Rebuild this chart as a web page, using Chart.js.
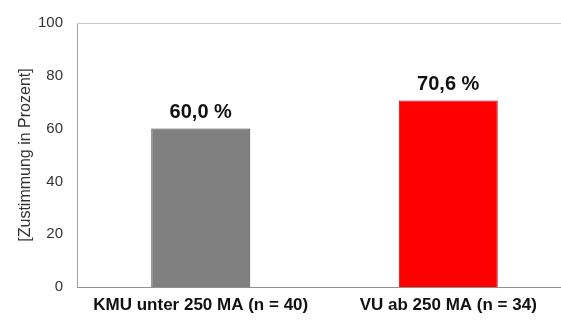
<!DOCTYPE html>
<html>
<head>
<meta charset="utf-8">
<script src="https://cdn.jsdelivr.net/npm/chart.js@4/dist/chart.umd.min.js"></script>
<style>
  html, body { margin: 0; padding: 0; background: #fff; overflow: hidden; width: 561px; height: 320px; }
  #wrap { width: 572px; height: 320px; }
</style>
</head>
<body>
<div id="wrap"><canvas id="c" width="572" height="320"></canvas></div>
<script>
const categories = ['KMU unter 250 MA (n = 40)', 'VU ab 250 MA (n = 34)'];
const zustimmung = [60.0, 70.6];
const yTicks = [0, 20, 40, 60, 80, 100];

const FONT = '"Liberation Sans", Arial, sans-serif';

// value labels above each bar, German decimal comma
const valueLabels = {
  id: 'valueLabels',
  afterDatasetsDraw(chart) {
    const ctx = chart.ctx;
    const meta = chart.getDatasetMeta(0);
    ctx.save();
    ctx.font = 'bold 20px ' + FONT;
    ctx.fillStyle = '#111';
    ctx.textAlign = 'center';
    ctx.textBaseline = 'alphabetic';
    meta.data.forEach((bar, i) => {
      const txt = zustimmung[i].toFixed(1).replace('.', ',') + ' %';
      ctx.fillText(txt, bar.x, bar.y - 11);
    });
    ctx.restore();
  }
};

// thin frame line along the top of the plot area
const topLine = {
  id: 'topLine',
  afterDraw(chart) {
    const { ctx, chartArea } = chart;
    ctx.save();
    ctx.strokeStyle = '#c8c8c8';
    ctx.lineWidth = 1;
    ctx.beginPath();
    ctx.moveTo(chartArea.left, chartArea.top + 0.5);
    ctx.lineTo(chartArea.right, chartArea.top + 0.5);
    ctx.stroke();
    ctx.restore();
  }
};

new Chart(document.getElementById('c'), {
  type: 'bar',
  data: {
    labels: categories,
    datasets: [{
      data: zustimmung,
      backgroundColor: ['#808080', '#ff0000'],
      borderColor: ['#4a4a4a', '#b00000'],
      borderWidth: 1,
      barPercentage: 0.4,
      categoryPercentage: 1.0
    }]
  },
  options: {
    responsive: false,
    animation: false,
    layout: { padding: { top: 20, left: 0, right: 0, bottom: 0 } },
    plugins: { legend: { display: false }, tooltip: { enabled: false } },
    scales: {
      x: {
        grid: { display: false, drawTicks: false },
        border: { display: true, color: '#909090', width: 1 },
        ticks: {
          color: '#111',
          font: { family: FONT, size: 17, weight: 'bold' },
          padding: 8,
          maxRotation: 0,
          autoSkip: false
        },
        afterFit(scale) { scale.height = 33; }
      },
      y: {
        min: 0, max: 100,
        afterBuildTicks(scale) { scale.ticks = yTicks.map(v => ({ value: v })); },
        grid: { display: false, drawTicks: false },
        border: { display: true, color: '#a0a0a0', width: 1 },
        ticks: {
          color: '#333',
          font: { family: FONT, size: 15 },
          padding: 14
        },
        title: {
          display: true,
          text: '[Zustimmung in Prozent]',
          color: '#333',
          font: { family: FONT, size: 16 },
          padding: { top: 16, bottom: 0 }
        },
        afterFit(scale) { scale.width = 77; }
      }
    }
  },
  plugins: [valueLabels, topLine]
});
</script>
</body>
</html>
